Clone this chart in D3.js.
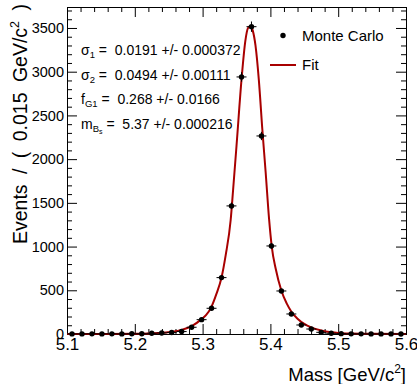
<!DOCTYPE html>
<html>
<head>
<meta charset="utf-8">
<script src="https://cdn.jsdelivr.net/npm/d3@7"></script>
<style>
  body { margin: 0; background: #fff; }
  svg { font-family: "Liberation Sans", Arial, sans-serif; }
  .axis path { stroke: #000; }
  .axis line { stroke: #000; }
  .axis text { fill: #000; }
  .xaxis text { font-size: 17px; }
  .yaxis text { font-size: 14.5px; }
</style>
</head>
<body>
<div id="chart"></div>
<script>
// Bin centres (GeV/c^2), 34 bins over 5.1 - 5.6
const massBins = [5.1074, 5.1221, 5.1368, 5.1515, 5.1662, 5.1809, 5.1956, 5.2103, 5.2250, 5.2397,
                  5.2544, 5.2691, 5.2838, 5.2985, 5.3132, 5.3279, 5.3426, 5.3574, 5.3721, 5.3868,
                  5.4015, 5.4162, 5.4309, 5.4456, 5.4603, 5.4750, 5.4897, 5.5044, 5.5191, 5.5338,
                  5.5485, 5.5632, 5.5779, 5.5926];
const mcCounts = [1, 1, 2, 1, 2, 1, 3, 3, 8, 12,
                  18, 28, 77, 164, 294, 645, 1465, 2940, 3515, 2265,
                  1007, 492, 229, 103, 57, 19, 8, 4, 2, 2,
                  1, 1, 1, 0];

// Fit curve
const fitMass = [5.100, 5.150, 5.200, 5.220, 5.240, 5.255, 5.270, 5.284, 5.2985, 5.305, 5.313, 5.320,
                 5.328, 5.334, 5.3414, 5.345, 5.350, 5.3577, 5.363, 5.367, 5.3706, 5.374, 5.378,
                 5.383, 5.388, 5.393, 5.398, 5.402, 5.408, 5.416, 5.424, 5.431, 5.440, 5.450,
                 5.460, 5.475, 5.490, 5.500, 5.520, 5.550, 5.600];
const fitValue = [0, 0.5, 2, 5, 13, 25, 50, 90, 170, 215, 310, 450,
                  650, 900, 1304, 1650, 2150, 2937, 3350, 3500, 3520, 3470, 3300,
                  2900, 2350, 1850, 1320, 1000, 740, 500, 350, 255, 175, 115,
                  75, 40, 20, 12, 5, 1.5, 0];

const xMajorTicks = [5.1, 5.2, 5.3, 5.4, 5.5, 5.6];
const yMajorTicks = [0, 500, 1000, 1500, 2000, 2500, 3000, 3500];

const fitParams = [
  { name: "σ", sub: "1", text: " =  0.0191 +/- 0.000372" },
  { name: "σ", sub: "2", text: " =  0.0494 +/- 0.00111" },
  { name: "f", sub: "G1", text: " =  0.268 +/- 0.0166" },
  { name: "m", sub: "B", subsub: "s", text: " =  5.37 +/- 0.000216" }
];

function drawChart() {
  const W = 417, H = 384;
  const margin = { top: 7, right: 11, bottom: 50, left: 67 };
  const width = W - margin.left - margin.right;
  const height = H - margin.top - margin.bottom;
  const fitColor = "#a80000";

  const svg = d3.select("#chart").append("svg")
    .attr("width", W).attr("height", H);
  const g = svg.append("g")
    .attr("transform", `translate(${margin.left},${margin.top})`);

  const x = d3.scaleLinear().domain([5.1, 5.6]).range([0, width]);
  const y = d3.scaleLinear().domain([0, 3740]).range([height, 0]);

  const xMinor = d3.range(5.1, 5.6001, 0.02).filter(v => Math.abs(Math.round(v * 10) - v * 10) > 1e-6);
  const yMinor = d3.range(0, 3740, 100).filter(v => v % 500 !== 0);

  // minor ticks (no labels)
  g.append("g").attr("class", "axis").attr("transform", `translate(0,${height})`)
    .call(d3.axisBottom(x).tickValues(xMinor).tickSize(-5).tickFormat(""));
  g.append("g").attr("class", "axis")
    .call(d3.axisTop(x).tickValues(xMinor).tickSize(-5).tickFormat(""));
  g.append("g").attr("class", "axis")
    .call(d3.axisLeft(y).tickValues(yMinor).tickSize(-5).tickFormat(""));
  g.append("g").attr("class", "axis").attr("transform", `translate(${width},0)`)
    .call(d3.axisRight(y).tickValues(yMinor).tickSize(-5).tickFormat(""));

  // major ticks
  g.append("g").attr("class", "axis xaxis").attr("transform", `translate(0,${height})`)
    .call(d3.axisBottom(x).tickValues(xMajorTicks).tickSize(-10).tickPadding(4).tickFormat(d3.format(".1f")));
  g.append("g").attr("class", "axis")
    .call(d3.axisTop(x).tickValues(xMajorTicks).tickSize(-10).tickFormat(""));
  g.append("g").attr("class", "axis yaxis")
    .call(d3.axisLeft(y).tickValues(yMajorTicks).tickSize(-10).tickPadding(3).tickFormat(d3.format("d")));
  g.append("g").attr("class", "axis").attr("transform", `translate(${width},0)`)
    .call(d3.axisRight(y).tickValues(yMajorTicks).tickSize(-10).tickFormat(""));

  // fit curve
  const pts = fitMass.map((m, i) => [m, fitValue[i]]);
  g.append("path")
    .datum(pts)
    .attr("fill", "none")
    .attr("stroke", fitColor)
    .attr("stroke-width", 2)
    .attr("d", d3.line().x(d => x(d[0])).y(d => y(d[1])).curve(d3.curveMonotoneX));

  // data points with error bars
  const binW = (x(5.6) - x(5.1)) / massBins.length;
  const data = massBins.map((m, i) => ({ m: m, n: mcCounts[i] }));
  const pt = g.selectAll(".pt").data(data).enter().append("g").attr("class", "pt");
  pt.append("line")
    .attr("x1", d => x(d.m) - binW / 2).attr("x2", d => x(d.m) + binW / 2)
    .attr("y1", d => y(d.n)).attr("y2", d => y(d.n))
    .attr("stroke", "#000").attr("stroke-width", 1);
  pt.append("line")
    .attr("x1", d => x(d.m)).attr("x2", d => x(d.m))
    .attr("y1", d => y(d.n + Math.sqrt(d.n))).attr("y2", d => y(Math.max(0, d.n - Math.sqrt(d.n))))
    .attr("stroke", "#000").attr("stroke-width", 1);
  pt.append("circle")
    .attr("cx", d => x(d.m)).attr("cy", d => y(d.n))
    .attr("r", 2.7).attr("fill", "#000");

  // fit parameters
  fitParams.forEach((p, i) => {
    const t = svg.append("text")
      .attr("x", 81).attr("y", 55 + i * 24.5)
      .attr("font-size", "14px")
      .attr("xml:space", "preserve");
    t.append("tspan").text(p.name);
    t.append("tspan").attr("font-size", "9.5px").attr("dy", 3).text(p.sub);
    if (p.subsub) {
      t.append("tspan").attr("font-size", "7px").attr("dy", 2).text(p.subsub);
      t.append("tspan").attr("dy", -5).text(p.text);
    } else {
      t.append("tspan").attr("dy", -3).text(p.text);
    }
  });

  // legend
  svg.append("circle").attr("cx", 283).attr("cy", 35.5).attr("r", 2.7).attr("fill", "#000");
  svg.append("text").attr("x", 302).attr("y", 40.5).attr("font-size", "15px").text("Monte Carlo");
  svg.append("line").attr("x1", 270).attr("x2", 296).attr("y1", 65).attr("y2", 65)
    .attr("stroke", fitColor).attr("stroke-width", 2);
  svg.append("text").attr("x", 302).attr("y", 70).attr("font-size", "15px").text("Fit");

  // axis titles
  const xt = svg.append("text")
    .attr("x", 406).attr("y", 381)
    .attr("text-anchor", "end")
    .attr("font-size", "18.5px");
  xt.append("tspan").text("Mass [GeV/c");
  xt.append("tspan").attr("font-size", "12px").attr("dy", -8).text("2");
  xt.append("tspan").attr("dy", 8).text("]");

  const yt = svg.append("text")
    .attr("transform", "translate(27,4) rotate(-90)")
    .attr("text-anchor", "end")
    .attr("font-size", "19.5px")
    .style("word-spacing", "5px")
    .attr("xml:space", "preserve");
  yt.append("tspan").text("Events / ( 0.015 GeV/c");
  yt.append("tspan").attr("font-size", "12.5px").attr("dy", -8).text("2");
  yt.append("tspan").attr("dy", 8).text(" )");
}

drawChart();
</script>
</body>
</html>
